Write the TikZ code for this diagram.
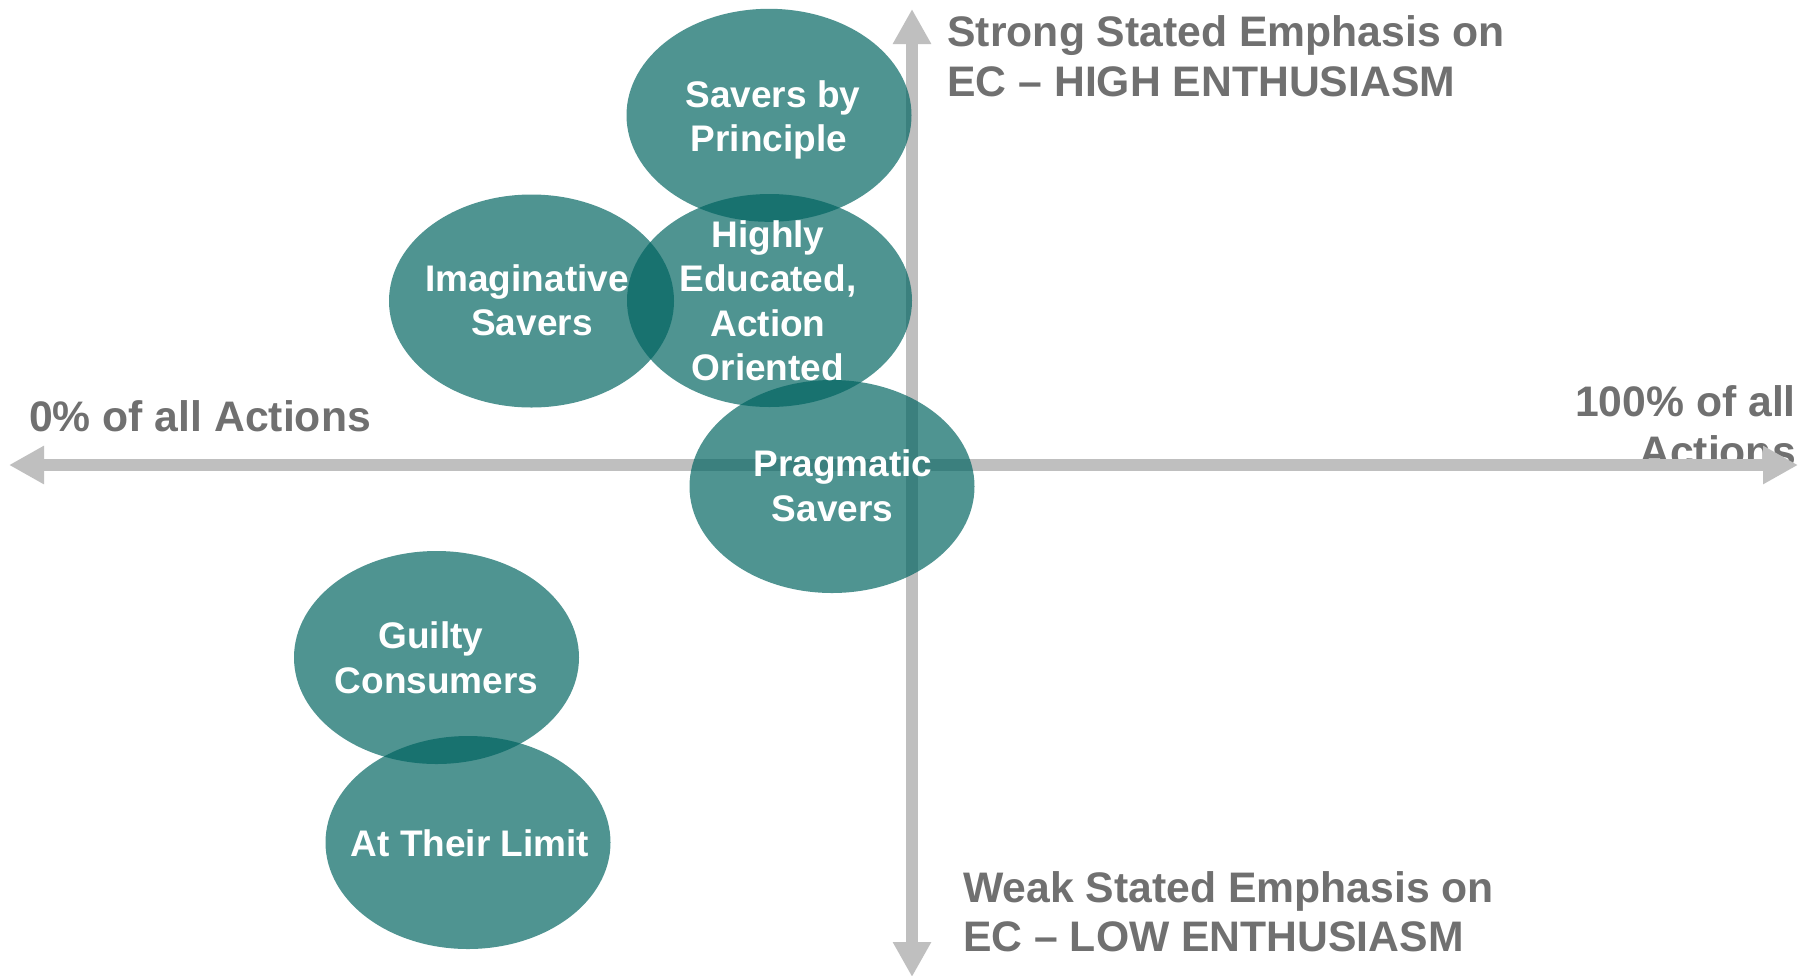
\documentclass[tikz,border=0pt]{standalone}
\usepackage{fontspec}
\setmainfont{Liberation Sans}
\usetikzlibrary{arrows.meta,shapes.geometric}
\definecolor{axisgray}{RGB}{191,191,191}
\definecolor{labelgray}{RGB}{112,112,112}
\definecolor{blobteal}{RGB}{0,100,97}
\newcommand\lst{\vrule height 30pt depth 10pt width 0pt}
\newcommand\bst{\vrule height 34pt depth 12pt width 0pt}
\begin{document}
\begin{tikzpicture}[x=1pt,y=-1pt,
  axisline/.style={draw=axisgray, line width=12pt,
    {Triangle[length=35pt,width=36pt]}-{Triangle[length=35pt,width=36pt]}},
  blob/.style={ellipse, minimum width=285pt, minimum height=213pt, inner sep=0pt,
    fill=blobteal, fill opacity=0.69, draw=none},
  blobtext/.style={text=white, inner sep=0pt, align=center,
    font=\fontsize{37}{44.5}\selectfont\bfseries},
  axistext/.style={text=labelgray, inner sep=0pt,
    font=\fontsize{42.7}{50}\selectfont\bfseries}]
\path[use as bounding box, fill=white] (0,0) rectangle (1811,975);

% axis labels (right one lies under the arrow)
\node[axistext, anchor=north east, align=right] (rlab) at (1796,382) {\bst 100\% of all\\\bst Actions};
\node[axistext, anchor=base west] (llab) at (29,431.7) {0\% of all Actions};
\node[axistext, anchor=north west, align=left] (tlab) at (947.3,12.7) {\bst Strong Stated Emphasis on\\\bst EC – HIGH ENTHUSIASM};
\node[axistext, anchor=north west, align=left, font=\fontsize{42.7}{49}\selectfont\bfseries] (blab) at (963,868.7) {\bst Weak Stated Emphasis on\\\bst EC – LOW ENTHUSIASM};

% axes
\coordinate (hl) at (9,465);
\coordinate (hr) at (1798,465);
\coordinate (vt) at (912,9);
\coordinate (vb) at (912,977);
\draw[axisline] (hl) -- (hr);
\draw[axisline] (vt) -- (vb);

% segments
\node[blob] (sbp) at (769,115.3) {};
\node[blob] (hea) at (769.5,300.5) {};
\node[blob] (ims) at (531.5,301) {};
\node[blob] (prg) at (832,486.5) {};
\node[blob] (gc) at (436.5,657.5) {};
\node[blob] (atl) at (468,842.5) {};

\node[blobtext] (sbpt) at (769,119.5) {\lst\hspace*{8pt}Savers by\\\lst Principle};
\node[blobtext] (heat) at (768,303.8) {\lst Highly\\\lst Educated,\\\lst Action\\\lst Oriented};
\node[blobtext] (imst) at (527,303.3) {\lst Imaginative\\\lst\hspace*{10pt}Savers};
\node[blobtext] (prgt) at (838,488.8) {\lst\hspace*{10pt}Pragmatic\\\lst Savers\hspace*{11pt}};
\node[blobtext] (gct) at (431,661) {\lst Guilty\\\lst\hspace*{11pt}Consumers};
\node[blobtext] (atlt) at (470,846) {\lst At Their Limit};
\end{tikzpicture}
\end{document}
